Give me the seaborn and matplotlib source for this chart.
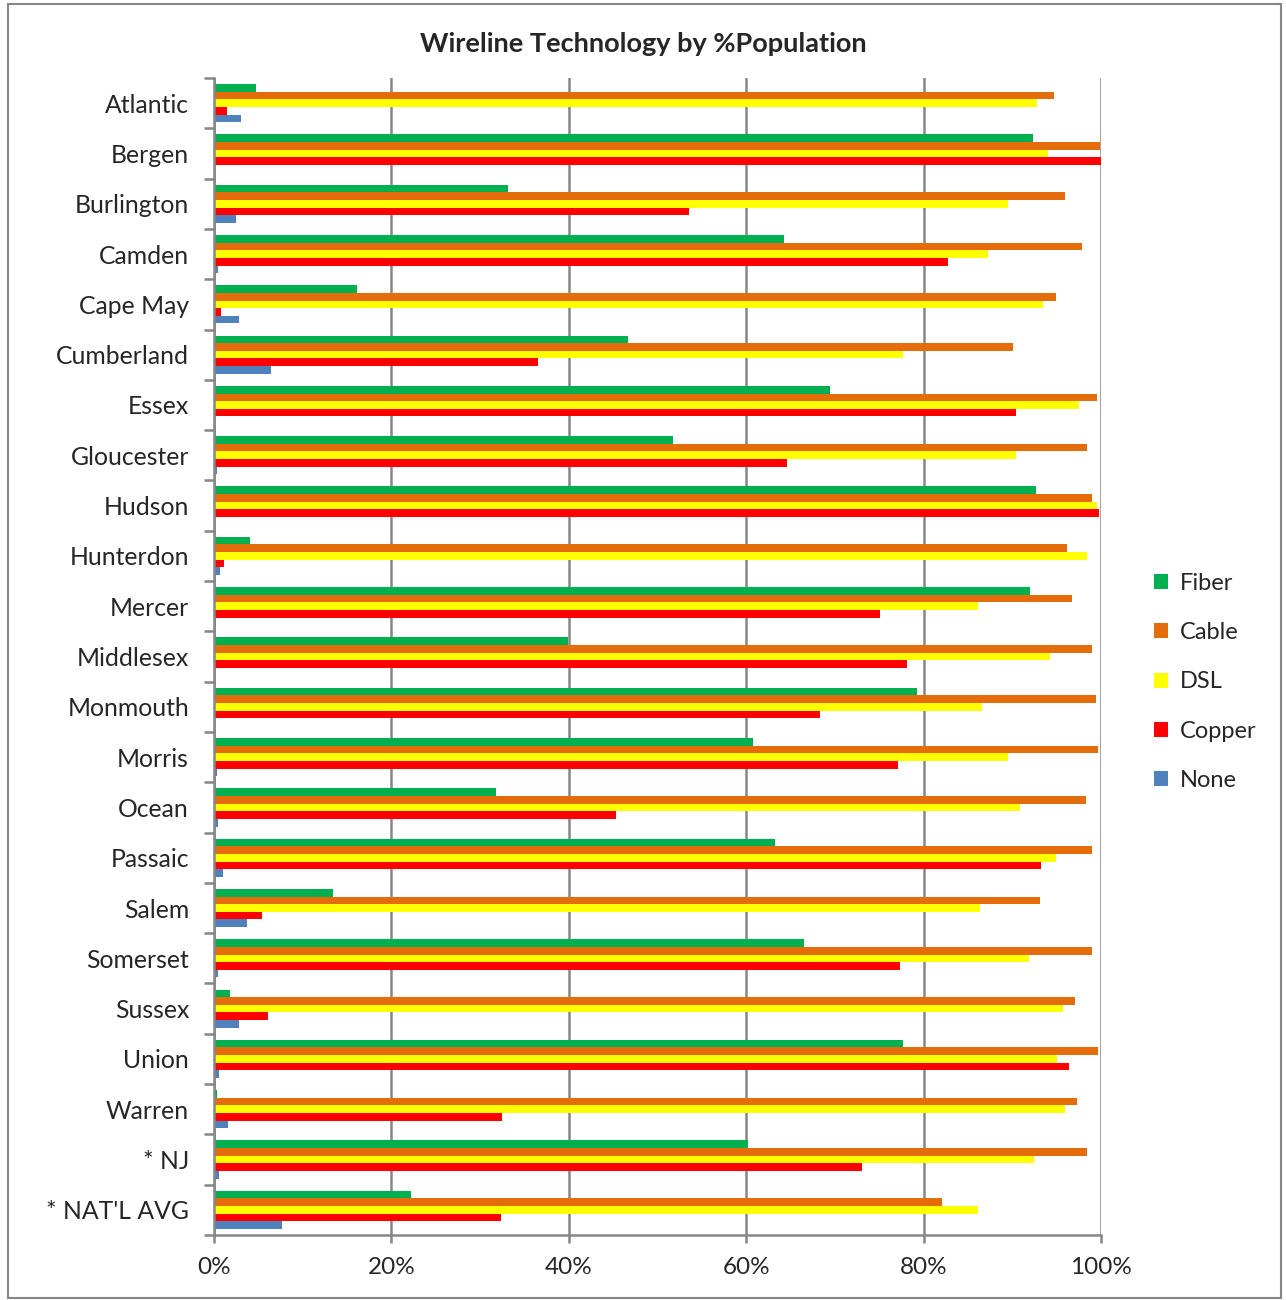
import pandas as pd
import matplotlib.pyplot as plt
import seaborn as sns
from matplotlib.patches import Rectangle
from matplotlib.ticker import PercentFormatter, FixedLocator

# counties (top to bottom)
counties = ["Atlantic", "Bergen", "Burlington", "Camden", "Cape May", "Cumberland",
            "Essex", "Gloucester", "Hudson", "Hunterdon", "Mercer", "Middlesex",
            "Monmouth", "Morris", "Ocean", "Passaic", "Salem", "Somerset", "Sussex",
            "Union", "Warren", "* NJ", "* NAT'L AVG"]

# % population by technology
fiber = [4.7, 92.3, 33.1, 64.3, 16.1, 46.7, 69.4, 51.7, 92.7, 4.1, 92.0, 39.9,
         79.3, 60.8, 31.8, 63.2, 13.4, 66.5, 1.8, 77.7, 0.3, 60.2, 22.2]
cable = [94.7, 99.9, 95.9, 97.9, 94.9, 90.1, 99.5, 98.4, 99.0, 96.2, 96.7, 99.0,
         99.4, 99.7, 98.3, 99.0, 93.1, 99.0, 97.1, 99.7, 97.3, 98.4, 82.1]
dsl = [92.8, 94.0, 89.5, 87.3, 93.5, 77.7, 97.5, 90.4, 99.5, 98.4, 86.1, 94.3,
       86.6, 89.5, 90.9, 94.9, 86.4, 91.9, 95.7, 95.0, 95.9, 92.4, 86.1]
copper = [1.5, 100.0, 53.6, 82.8, 0.8, 36.5, 90.4, 64.6, 99.8, 1.1, 75.1, 78.1,
          68.3, 77.1, 45.3, 93.2, 5.4, 77.3, 6.1, 96.4, 32.5, 73.1, 32.4]
none = [3.0, 0.0, 2.5, 0.5, 2.8, 6.4, 0.1, 0.3, 0.0, 0.7, 0.2, 0.1,
        0.1, 0.3, 0.4, 1.0, 3.7, 0.5, 2.8, 0.6, 1.6, 0.6, 7.7]

techs = ["Fiber", "Cable", "DSL", "Copper", "None"]
colores = ["#00B050", "#E46C0A", "#FFFF00", "#FF0000", "#4F81BD"]

df = pd.DataFrame({"county": counties, "Fiber": fiber, "Cable": cable,
                   "DSL": dsl, "Copper": copper, "None": none})
largo = df.melt(id_vars="county", var_name="tech", value_name="pct")

sns.set_theme(style="white")
plt.rcParams['font.family'] = ['Lato', 'DejaVu Sans']

fig = plt.figure(figsize=(12.86, 13.0), dpi=100)
ax = fig.add_axes([214 / 1286, 1 - 1235 / 1300, 887 / 1286, (1235 - 78) / 1300])

sns.barplot(data=largo, x="pct", y="county", hue="tech", order=counties,
            hue_order=techs, palette=colores, orient="h", width=0.76,
            saturation=1, linewidth=0, ax=ax)

ax.set_xlim(0, 100)
ax.set_ylim(len(counties) - 0.5, -0.5)
ax.xaxis.set_major_formatter(PercentFormatter(decimals=0))
ax.set_xticks([0, 20, 40, 60, 80, 100])
ax.grid(axis="x", color="#868686", linewidth=1.8)
ax.set_axisbelow(True)
ax.set_xlabel("")
ax.set_ylabel("")

for lado in ["top", "right"]:
    ax.spines[lado].set_visible(False)
for lado in ["left", "bottom"]:
    ax.spines[lado].set_color("#868686")
    ax.spines[lado].set_linewidth(1.8)

# ticks between categories
ax.yaxis.set_minor_locator(FixedLocator([i - 0.5 for i in range(len(counties) + 1)]))
ax.tick_params(axis="y", which="minor", left=True, length=7, width=1.8, color="#868686")
ax.tick_params(axis="y", which="major", left=False, length=0, pad=18, labelsize=17.8)
ax.tick_params(axis="x", which="major", bottom=True, length=6, width=1.8,
               color="#868686", pad=10, labelsize=17.5)

ax.legend(loc="center left", bbox_to_anchor=(1133 / 1286, 1 - 682 / 1300),
          bbox_transform=fig.transFigure, frameon=False, fontsize=17,
          handlelength=0.6, handleheight=0.6, handletextpad=0.5, labelspacing=1.2)

fig.text(0.5, 1 - 44 / 1300, "Wireline Technology by %Population", ha="center",
         va="center", fontsize=19.5, fontweight="bold")

fig.patches.append(Rectangle((8 / 1286, 2 / 1300), 1273 / 1286, 1294 / 1300,
                             transform=fig.transFigure, fill=False,
                             edgecolor="#868686", linewidth=1.5))

plt.savefig("out.png", dpi=100)
